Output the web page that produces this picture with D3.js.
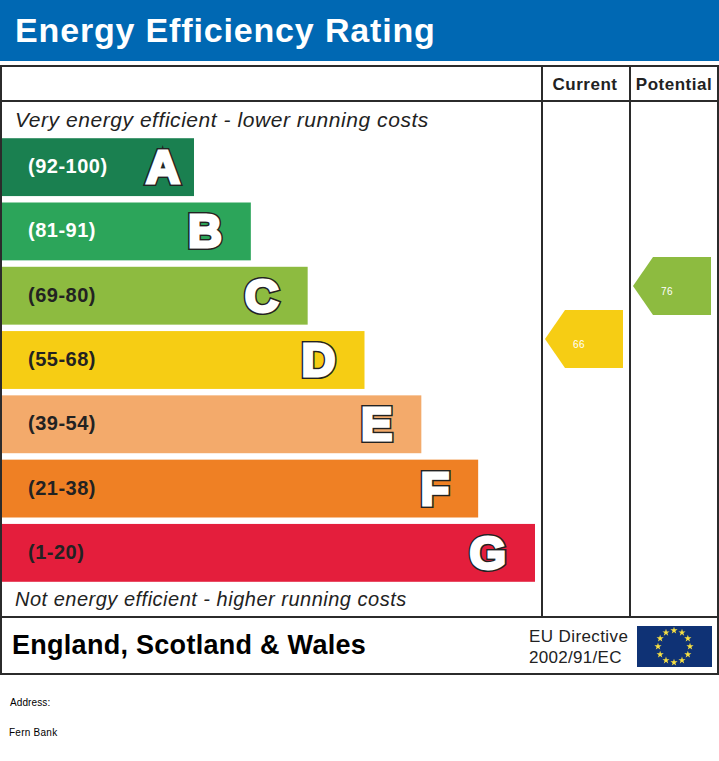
<!DOCTYPE html>
<html>
<head>
<meta charset="utf-8">
<script src="https://cdnjs.cloudflare.com/ajax/libs/d3/7.8.5/d3.min.js"></script>
<style>
  html, body { margin: 0; padding: 0; background: #fff; }
  svg { display: block; font-family: "Liberation Sans", Arial, sans-serif; }
</style>
</head>
<body>
<div id="chart-container"></div>
<script>
// Chart values
const bands = ["A", "B", "C", "D", "E", "F", "G"];
const bandRanges = ["(92-100)", "(81-91)", "(69-80)", "(55-68)", "(39-54)", "(21-38)", "(1-20)"];
const bandColours = ["#1a8050", "#2ca55a", "#8dbb40", "#f6cd14", "#f3aa6b", "#ef8024", "#e41e3c"];
const bandLabelColours = ["#fff", "#fff", "#222", "#222", "#222", "#222", "#222"];
const bandLengths = [1, 2, 3, 4, 5, 6, 7];
const columns = ["Current", "Potential"];
const ratings = [66, 76];
const ratingColours = ["#f6cd14", "#8dbb40"];
const starAngles = d3.range(0, 360, 30);

const width = 719;
const height = 761;

const svg = d3.select("#chart-container")
  .append("svg")
    .attr("width", width)
    .attr("height", height);

// Bars grow one step per band
const x = d3.scaleLinear()
  .domain([1, 7])
  .range([192, 533]);

const y = d3.scaleBand()
  .domain(bands)
  .range([135, 585])
  .paddingInner(0.1)
  .paddingOuter(0.05);

// Arrow height follows the rating
const ratingY = d3.scaleLinear()
  .domain([76, 66])
  .range([286, 339]);

const columnX = d3.scaleOrdinal()
  .domain(columns)
  .range([623, 711]);

// Header band
svg.append("rect")
  .attr("width", width)
  .attr("height", 61)
  .attr("fill", "#0068b3");

svg.append("text")
  .attr("x", 15)
  .attr("y", 42)
  .attr("fill", "#fff")
  .style("font-size", "34px")
  .style("font-weight", "bold")
  .style("letter-spacing", "0.84px")
  .text("Energy Efficiency Rating");

// Bars
const bar = svg.selectAll(".bar")
  .data(bands)
  .join("g")
    .attr("class", "bar");

bar.append("rect")
  .attr("x", 2)
  .attr("y", d => y(d))
  .attr("width", (d, i) => x(bandLengths[i]))
  .attr("height", y.bandwidth())
  .attr("fill", (d, i) => bandColours[i]);

bar.append("text")
  .attr("x", 28)
  .attr("y", d => y(d) + y.bandwidth() / 2 + 6)
  .attr("fill", (d, i) => bandLabelColours[i])
  .style("font-size", "20px")
  .style("font-weight", "bold")
  .style("letter-spacing", "0.5px")
  .text((d, i) => bandRanges[i]);

// Big letters: dark outline under a fattened white letter
const letterEnd = (d, i) => 2 + x(bandLengths[i]) - (i === 0 ? 14 : 29);

bar.append("text")
  .attr("x", letterEnd)
  .attr("y", d => y(d) + y.bandwidth() / 2 + 16)
  .attr("text-anchor", "end")
  .attr("fill", "#222")
  .attr("stroke", "#222")
  .attr("stroke-width", 6)
  .attr("stroke-linejoin", "miter")
  .style("font-size", "47px")
  .style("font-weight", "bold")
  .text(d => d);

bar.append("text")
  .attr("x", letterEnd)
  .attr("y", d => y(d) + y.bandwidth() / 2 + 16)
  .attr("text-anchor", "end")
  .attr("fill", "#fff")
  .attr("stroke", "#fff")
  .attr("stroke-width", 3)
  .attr("stroke-linejoin", "miter")
  .style("font-size", "47px")
  .style("font-weight", "bold")
  .text(d => d);

// Frame and column lines
const frame = "#2b2b2b";
svg.append("rect")
  .attr("x", 1)
  .attr("y", 66)
  .attr("width", 717)
  .attr("height", 608)
  .attr("fill", "none")
  .attr("stroke", frame)
  .attr("stroke-width", 2);

svg.selectAll(".rule")
  .data([101, 617])
  .join("line")
    .attr("class", "rule")
    .attr("x1", 1)
    .attr("x2", 718)
    .attr("y1", d => d)
    .attr("y2", d => d)
    .attr("stroke", frame)
    .attr("stroke-width", 2);

svg.selectAll(".colLine")
  .data([542, 630])
  .join("line")
    .attr("class", "colLine")
    .attr("x1", d => d)
    .attr("x2", d => d)
    .attr("y1", 66)
    .attr("y2", 617)
    .attr("stroke", frame)
    .attr("stroke-width", 2);

svg.selectAll(".colHead")
  .data(columns)
  .join("text")
    .attr("class", "colHead")
    .attr("x", (d, i) => columnX(d) - 38 + i)
    .attr("y", 90)
    .attr("text-anchor", "middle")
    .attr("fill", "#222")
    .style("font-size", "17px")
    .style("font-weight", "bold")
    .style("letter-spacing", "0.5px")
    .text(d => d);

// Rating arrows
const arrowHeight = y.bandwidth();
const arrow = svg.selectAll(".arrow")
  .data(ratings)
  .join("g")
    .attr("class", "arrow")
    .attr("transform", (d, i) => `translate(${columnX(columns[i])}, ${ratingY(d)})`);

arrow.append("path")
  .attr("d", `M0,${-arrowHeight / 2}H-58L-78,0L-58,${arrowHeight / 2}H0Z`)
  .attr("fill", (d, i) => ratingColours[i]);

arrow.append("text")
  .attr("x", -44)
  .attr("y", 9)
  .attr("text-anchor", "middle")
  .attr("fill", "#fff")
  .style("font-size", "10px")
  .style("letter-spacing", "0.5px")
  .text(d => d);

// Captions
svg.append("text")
  .attr("x", 15)
  .attr("y", 127)
  .attr("fill", "#222")
  .style("font-size", "21px")
  .style("font-style", "italic")
  .style("letter-spacing", "0.55px")
  .text("Very energy efficient - lower running costs");

svg.append("text")
  .attr("x", 15)
  .attr("y", 606)
  .attr("fill", "#222")
  .style("font-size", "20px")
  .style("font-style", "italic")
  .style("letter-spacing", "0.5px")
  .text("Not energy efficient - higher running costs");

svg.append("text")
  .attr("x", 12)
  .attr("y", 654)
  .attr("fill", "#000")
  .style("font-size", "27px")
  .style("font-weight", "bold")
  .style("letter-spacing", "0.28px")
  .text("England, Scotland & Wales");

svg.append("text")
  .attr("x", 529)
  .attr("y", 642)
  .attr("fill", "#222")
  .style("font-size", "17px")
  .style("letter-spacing", "0.4px")
  .text("EU Directive");

svg.append("text")
  .attr("x", 529)
  .attr("y", 663)
  .attr("fill", "#222")
  .style("font-size", "17px")
  .style("letter-spacing", "0.3px")
  .text("2002/91/EC");

// EU flag
svg.append("rect")
  .attr("x", 637)
  .attr("y", 626)
  .attr("width", 75)
  .attr("height", 41)
  .attr("fill", "#0f3275");

const star = d3.symbol().type(d3.symbolStar).size(16);
svg.selectAll(".star")
  .data(starAngles)
  .join("path")
    .attr("class", "star")
    .attr("d", star)
    .attr("fill", "#f7e043")
    .attr("transform", d => {
      const a = d * Math.PI / 180;
      return `translate(${674 + 16 * Math.sin(a)}, ${646.5 - 16 * Math.cos(a)})`;
    });

// Address lines
svg.append("text")
  .attr("x", 10)
  .attr("y", 706)
  .attr("fill", "#000")
  .style("font-size", "10px")
  .style("letter-spacing", "0.1px")
  .text("Address:");

svg.append("text")
  .attr("x", 9)
  .attr("y", 736)
  .attr("fill", "#000")
  .style("font-size", "10px")
  .style("letter-spacing", "0.25px")
  .text("Fern Bank");
</script>
</body>
</html>
